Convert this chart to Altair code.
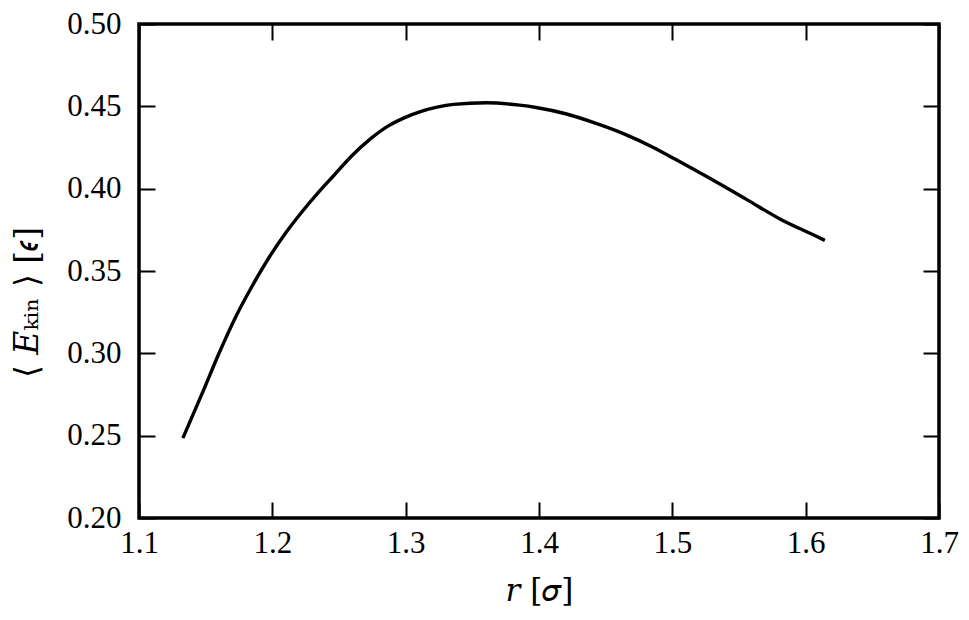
import altair as alt
import pandas as pd

# data
r_sigma = [1.1329, 1.1477, 1.1601, 1.1725, 1.1849, 1.1973, 1.2097, 1.2220, 1.2344,
           1.2468, 1.2591, 1.2740, 1.2864, 1.2988, 1.3111, 1.3235, 1.3359, 1.3606,
           1.3854, 1.3978, 1.4200, 1.4423, 1.4646, 1.4854, 1.5019, 1.5314, 1.5562,
           1.5810, 1.6057, 1.6144]
e_kin = [0.2485, 0.2763, 0.3002, 0.3221, 0.3409, 0.3579, 0.3728, 0.3857, 0.3976,
         0.4086, 0.4195, 0.4305, 0.4378, 0.4430, 0.4468, 0.4495, 0.4512, 0.4522,
         0.4507, 0.4493, 0.4455, 0.4398, 0.4330, 0.4252, 0.4180, 0.4048, 0.3932,
         0.3815, 0.3720, 0.3686]
x_ticks = [1.1, 1.2, 1.3, 1.4, 1.5, 1.6, 1.7]
y_ticks = [0.20, 0.25, 0.30, 0.35, 0.40, 0.45, 0.50]

df = pd.DataFrame({"r": r_sigma, "E": e_kin})

FONT = "Liberation Serif"
TFONT = "DejaVu Serif"
x_scale = alt.Scale(domain=[1.1, 1.7], nice=False, zero=False)
y_scale = alt.Scale(domain=[0.2, 0.5], nice=False, zero=False)

common = dict(domain=False, grid=False, tickSize=16, tickWidth=2, tickColor="black",
              offset=-16, labelFont=FONT, labelFontSize=31, labelColor="black",
              labelFlush=False, labelOverlap=False, labelBound=False,
              titleFont=TFONT, titleColor="black", titleFontWeight="normal")

line = alt.Chart(df).mark_line(color="black", strokeWidth=3.4, interpolate="monotone").encode(
    x=alt.X("r:Q", scale=x_scale,
            axis=alt.Axis(orient="bottom", values=x_ticks, format=".1f",
                          title="𝑟 [𝜎]", titleFontSize=31,
                          labelPadding=10, titlePadding=18, **common)),
    y=alt.Y("E:Q", scale=y_scale,
            axis=alt.Axis(orient="left", values=y_ticks, format=".2f",
                          title="⟨ 𝐸ₖᵢₙ ⟩ [𝜖]", titleFontSize=33, titleY=278,
                          labelPadding=18, titlePadding=22, **common)),
)

mirror = alt.Chart(df).mark_line(strokeOpacity=0).encode(
    x=alt.X("r:Q", scale=x_scale,
            axis=alt.Axis(orient="top", values=x_ticks, labels=False, title=None, **common)),
    y=alt.Y("E:Q", scale=y_scale,
            axis=alt.Axis(orient="right", values=y_ticks, labels=False, title=None, **common)),
)

chart = (
    alt.layer(line, mirror)
    .resolve_axis(x="independent", y="independent")
    .properties(width=800, height=494,
                padding={"left": 131, "top": 16, "right": 22, "bottom": 94},
                autosize=alt.AutoSizeParams(type="none"))
    .configure_view(stroke="black", strokeWidth=3.5)
)

chart.save("out.html", embed_options={"renderer": "svg", "actions": False})
